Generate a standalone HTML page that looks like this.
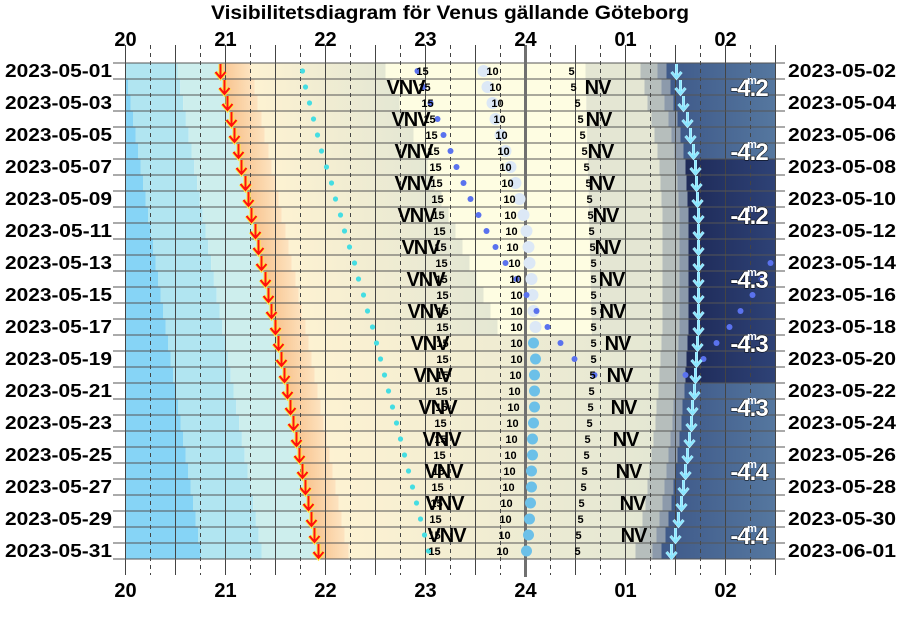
<!DOCTYPE html>
<html><head><meta charset="utf-8"><style>
body{margin:0;background:#fff}
svg{display:block;font-family:"Liberation Sans",sans-serif}
</style></head><body>
<svg id="chart" width="900" height="622" viewBox="0 0 900 622" xmlns="http://www.w3.org/2000/svg">
<defs>
<linearGradient id="gOr" x1="0" x2="1"><stop offset="0" stop-color="#f8c48f"/><stop offset="1" stop-color="#fde3c0"/></linearGradient>
<linearGradient id="gBe" x1="0" x2="1"><stop offset="0" stop-color="#fdf2d2"/><stop offset="1" stop-color="#e4e7d3"/></linearGradient>
<linearGradient id="gDk1" x1="0" x2="1"><stop offset="0" stop-color="#3f5a8a"/><stop offset="1" stop-color="#55779f"/></linearGradient>
<linearGradient id="gDk2" x1="0" x2="1"><stop offset="0" stop-color="#1e2a58"/><stop offset="1" stop-color="#2e4276"/></linearGradient>
</defs>
<text x="211" y="19" font-weight="bold" font-size="19" textLength="478" lengthAdjust="spacingAndGlyphs">Visibilitetsdiagram för Venus gällande Göteborg</text>
<g id="bg"></g><g id="grid"></g><g id="marks"></g><g id="labels"></g>
</svg>
<script>
const sunset=[20.95,20.99,21.02,21.06,21.09,21.13,21.16,21.20,21.23,21.26,21.30,21.33,21.36,21.40,21.43,21.46,21.50,21.53,21.56,21.59,21.62,21.65,21.68,21.71,21.74,21.77,21.80,21.83,21.86,21.89,21.93];
const sunrise=[25.51,25.55,25.58,25.62,25.65,25.68,25.70,25.71,25.72,25.73,25.73,25.73,25.73,25.73,25.73,25.73,25.73,25.72,25.71,25.70,25.69,25.67,25.66,25.64,25.62,25.60,25.58,25.56,25.53,25.50,25.46];
const venusSet=[21.77,21.80,21.84,21.88,21.92,21.96,22.01,22.06,22.10,22.15,22.19,22.24,22.29,22.33,22.38,22.42,22.47,22.51,22.55,22.59,22.63,22.67,22.71,22.75,22.79,22.83,22.87,22.91,22.95,22.99,23.03];
const alt15=[22.97,22.99,23.02,23.04,23.06,23.08,23.10,23.11,23.12,23.13,23.14,23.15,23.16,23.16,23.17,23.17,23.17,23.17,23.17,23.17,23.16,23.16,23.15,23.15,23.14,23.13,23.12,23.11,23.10,23.09,23.09];
const alt10=[23.67,23.70,23.72,23.74,23.76,23.78,23.80,23.82,23.84,23.85,23.86,23.87,23.89,23.90,23.91,23.91,23.91,23.91,23.91,23.90,23.89,23.88,23.87,23.86,23.85,23.84,23.83,23.81,23.80,23.79,23.77];
const alt5=[24.46,24.48,24.52,24.55,24.57,24.59,24.61,24.63,24.64,24.65,24.66,24.67,24.68,24.68,24.68,24.68,24.68,24.68,24.68,24.67,24.66,24.65,24.64,24.62,24.61,24.59,24.58,24.56,24.55,24.53,24.52];
const vnvPos=[22.80,22.85,22.88,22.88,22.91,22.95,23.00,23.01,23.04,23.07,23.12,23.16,23.18,23.19,23.21];
const nvPos=[24.72,24.73,24.75,24.76,24.80,24.82,24.86,24.87,24.92,24.94,24.98,25.00,25.03,25.07,25.08];
const moonA=[22.92,22.98,23.05,23.12,23.18,23.25,23.31,23.38,23.45,23.53,23.61,23.70,23.80,23.91,24.01,24.11,24.22,24.35,24.49,24.69];
const moonB=[null,null,null,null,null,null,null,null,null,null,null,null,26.45,26.36,26.27,26.15,26.04,25.91,25.78,25.60];
const moonDisk=[23.58,23.62,23.67,23.70,23.75,23.80,23.85,23.90,23.94,23.98,24.01,24.03,24.04,24.06,24.07,24.08,24.10,24.08,24.10,24.09,24.09,24.09,24.08,24.07,24.07,24.06,24.06,24.05,24.04,24.03,24.01];
const magnitudes=[-4.2,-4.2,-4.2,-4.3,-4.3,-4.3,-4.4,-4.4];
const hourTicks=["20","21","22","23","24","01","02"];

const NS="http://www.w3.org/2000/svg";
const X0=125.5,PX=100,Y0=63,RH=16,N=31,XR=775;
const x=h=>X0+(h-20)*PX;
const yTop=i=>Y0+i*RH;
function mk(p,tag,at){const e=document.createElementNS(NS,tag);for(const k in at)e.setAttribute(k,at[k]);p.appendChild(e);return e;}
const bg=document.getElementById('bg'),grid=document.getElementById('grid'),marks=document.getElementById('marks'),labels=document.getElementById('labels');
function rect(i,h1,h2,fill,name){const a=Math.max(x(h1),X0),b=Math.min(x(h2),XR);if(b<=a)return;
 const r=mk(bg,'rect',{x:a,y:yTop(i),width:b-a,height:RH,fill:fill});
 
 }
for(let i=0;i<N;i++){
 const b1=20+0.025*i, b2=20.52+0.028*i, ss=sunset[i], sr=sunrise[i];
 rect(i,20,b1,'#86d4f6','day-sky-band');
 rect(i,b1,b2,'#b1e5f1','civil-sky-band');
 rect(i,b2,ss,'#cdeeed','pre-sunset-band');
 rect(i,ss,ss+0.3,'url(#gOr)','sunset-band');
 const ys=22.6+0.07*i;
 if(i<17){
  rect(i,ss+0.3,ys,'url(#gBe)','twilight-band');
  rect(i,ys,24.6+0.004*i,'#fefde2','dark-band');
  rect(i,24.6+0.004*i,sr-0.36,'#e4e6d3','morning-twilight-band');
 } else {
  rect(i,ss+0.3,sr-0.36,'url(#gBe)','twilight-band');
 }
 rect(i,sr-0.36,sr-0.19,'#b6bebc','dawn-band');
 rect(i,sr-0.19,sr-0.1,'#8c9aab','dawn-band-2');
 rect(i,sr-0.1,26.6,(i>=6&&i<20)?'url(#gDk2)':'url(#gDk1)','day-after-sunrise-band');
}
for(let q=0;q<=26;q++){
 const xx=X0+q*25; const solid=q%2===0;
 const l=mk(grid,'line',{x1:xx,x2:xx,y1:45,y2:575,stroke:'#444','stroke-width':1});
 if(!solid)l.setAttribute('stroke-dasharray','4,4');
 
 
}
for(let i=0;i<=N;i++){
 const l=mk(grid,'line',{x1:113,x2:785,y1:yTop(i),y2:yTop(i),stroke:'#555','stroke-width':1});
 
 
}
const mid=mk(grid,'line',{x1:x(24),x2:x(24),y1:45,y2:577,stroke:'#707070','stroke-width':3});


hourTicks.forEach((t,k)=>{
 [46,597].forEach(yy=>{
  const e=mk(labels,'text',{x:x(20+k),y:yy,'text-anchor':'middle','font-weight':'bold','font-size':20});
  e.textContent=t;
  
  
 });
});
const d0=new Date(Date.UTC(2023,4,1));
const fmt=d=>d.toISOString().slice(0,10);
for(let i=0;i<N;i++){
 const d=new Date(d0.getTime()+i*864e5), d2=new Date(d0.getTime()+(i+1)*864e5);
 const cy=yTop(i)+RH/2+6;
 if(i%2===0){
  const e=mk(labels,'text',{x:5,y:cy,'font-weight':'bold','font-size':18,textLength:107,lengthAdjust:'spacingAndGlyphs'});e.textContent=fmt(d);
  
  
  const f=mk(labels,'text',{x:788,y:cy,'font-weight':'bold','font-size':18,textLength:108,lengthAdjust:'spacingAndGlyphs'});f.textContent=fmt(d2);
  
  
 }
}
function arrow(i,h,col,edge,name,ew){
 const xx=x(h),t=yTop(i)+1,b=yTop(i)+RH-1;
 const g=mk(marks,'g',{});
 
 
 const pts=`${xx-5},${b-6} ${xx},${b} ${xx+5},${b-6}`;
 mk(g,'line',{x1:xx,x2:xx,y1:t,y2:b,stroke:edge,'stroke-width':ew});
 mk(g,'polyline',{points:pts,fill:'none',stroke:edge,'stroke-width':ew});
 mk(g,'line',{x1:xx,x2:xx,y1:t,y2:b,stroke:col,'stroke-width':2});
 mk(g,'polyline',{points:pts,fill:'none',stroke:col,'stroke-width':2});
}
function txt(xx,yy,s,size,name,extra){const e=mk(marks,'text',Object.assign({x:xx,y:yy,'text-anchor':'middle','font-weight':'bold','font-size':size},extra||{}));e.textContent=s;
 
 return e;}
for(let i=0;i<N;i++){
 const cy=yTop(i)+RH/2;
 const md=mk(marks,'circle',{cx:x(moonDisk[i]),cy:cy,r:i<17?6:5.5,fill:i<17?'#dce8f6':'#6cc0e8'});
 
 
 const vd=mk(marks,'circle',{cx:x(venusSet[i]),cy:cy,r:2.6,fill:'#45dde2'});
 
 
 if(i<moonA.length&&moonA[i]!=null){const c=mk(marks,'circle',{cx:x(moonA[i]),cy:cy,r:3,fill:'#5a72ee'});
  
  }
 if(i<moonB.length&&moonB[i]!=null){const c=mk(marks,'circle',{cx:x(moonB[i]),cy:cy,r:3,fill:'#5a72ee'});
  
  }
 txt(x(alt15[i]),cy+4,'15',11,'altitude-15-label');
 txt(x(alt10[i]),cy+4,'10',11,'altitude-10-label');
 txt(x(alt5[i]),cy+4,'5',11,'altitude-5-label');
 arrow(i,sunset[i],'#ff1010','#ffe840','sunset-arrow',4);
 arrow(i,sunrise[i],'#8ae6ff','#c8f4ff','sunrise-arrow',3);
}
for(let k=0;k<vnvPos.length;k++){
 const cy=yTop(2*k+1)+RH/2+7;
 txt(x(vnvPos[k]),cy,'VNV',20,'direction-vnv-label',{'letter-spacing':'-1'});
 txt(x(nvPos[k]),cy,'NV',20,'direction-nv-label',{'letter-spacing':'-1'});
}
magnitudes.forEach((m,k)=>{
 const cy=yTop(4*k+1)+RH/2+9;
 const s=m.toFixed(1);
 txt(749,cy,s,24,'magnitude-label',{fill:'#fff','letter-spacing':'-1',stroke:'#000','stroke-width':1,'paint-order':'stroke'});
 txt(752,cy-12,'m',11,'magnitude-unit',{fill:'#fff'});
});
</script>
</body></html>
